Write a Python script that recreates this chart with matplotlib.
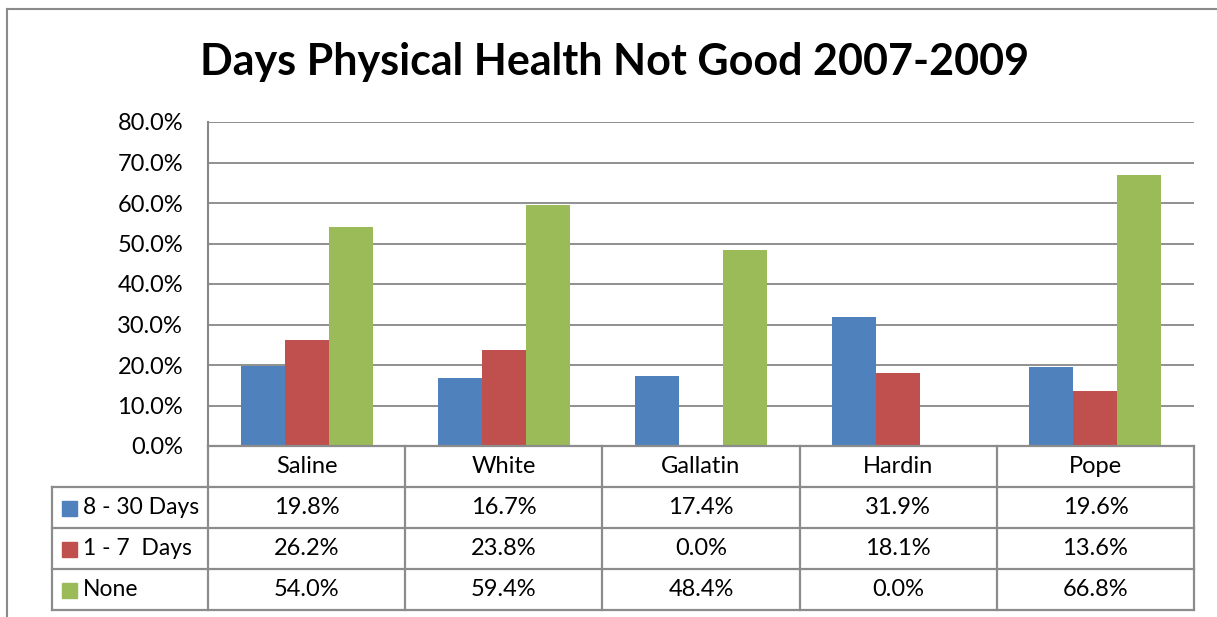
import matplotlib
matplotlib.use("Agg")
import matplotlib.pyplot as plt
import numpy as np

title = "Days Physical Health Not Good 2007-2009"
categories = ["Saline", "White", "Gallatin", "Hardin", "Pope"]
series_names = ["8 - 30 Days", "1 - 7  Days", "None"]
days_8_30 = [19.8, 16.7, 17.4, 31.9, 19.6]
days_1_7 = [26.2, 23.8, 0.0, 18.1, 13.6]
days_none = [54.0, 59.4, 48.4, 0.0, 66.8]
colors = ["#4F81BD", "#C0504D", "#9BBB59"]
yticks = [0, 10, 20, 30, 40, 50, 60, 70, 80]

series = [days_8_30, days_1_7, days_none]

W, H = 1217, 617
fig = plt.figure(figsize=(W / 100, H / 100), dpi=100)
FONT = "Lato"
grid_c = "#878787"

# plot area in pixel coordinates
px0, px1 = 208, 1194
py_top, py_bot = 122, 446
ax = fig.add_axes([px0 / W, 1 - py_bot / H, (px1 - px0) / W, (py_bot - py_top) / H])
n = len(categories)
x = np.arange(n)
bw = 44 / 197
for i, (vals, c) in enumerate(zip(series, colors)):
    ax.bar(x + (i - 1) * bw, vals, width=bw, color=c, zorder=3)
ax.set_xlim(-0.5, n - 0.5)
ax.set_ylim(0, 80)
ax.set_yticks(yticks)
ax.set_yticklabels([f"{v:.1f}%" for v in yticks], fontsize=17, family=FONT)
ax.tick_params(axis="y", length=0, pad=18)
ax.set_xticks([])
ax.grid(axis="y", color=grid_c, linewidth=1.3, zorder=0)
for s in ["top", "right", "bottom"]:
    ax.spines[s].set_visible(False)
ax.spines["left"].set_color(grid_c)
ax.spines["left"].set_linewidth(1.5)

# overlay for table and frame
ov = fig.add_axes([0, 0, 1, 1], zorder=5)
ov.set_xlim(0, W)
ov.set_ylim(H, 0)
ov.axis("off")
ov.patch.set_alpha(0)

# outer frame
ov.plot([7, 7], [9, H], color="#8a8a8a", lw=1.5)
ov.plot([7, W], [9, 9], color="#8a8a8a", lw=1.5)

ov.text(615, 62, title, fontsize=31, fontweight="bold", family=FONT,
        ha="center", va="center")

col_edges = np.linspace(px0, px1, n + 1)
row_edges = [446, 487, 528, 569, 610]
leg_x0 = 52
tlw = 1.6
tc = "#8c8c8c"
# horizontal lines
ov.plot([px0, px1], [row_edges[0]] * 2, color=tc, lw=tlw)
for yv in row_edges[1:]:
    ov.plot([leg_x0, px1], [yv] * 2, color=tc, lw=tlw)
# vertical lines
ov.plot([px0, px0], [row_edges[0], row_edges[-1]], color=tc, lw=tlw)
for xv in col_edges[1:]:
    ov.plot([xv, xv], [row_edges[0], row_edges[-1]], color=tc, lw=tlw)
ov.plot([leg_x0, leg_x0], [row_edges[1], row_edges[-1]], color=tc, lw=tlw)

for j, cat in enumerate(categories):
    cx = (col_edges[j] + col_edges[j + 1]) / 2
    ov.text(cx, (row_edges[0] + row_edges[1]) / 2, cat, fontsize=17,
            family=FONT, ha="center", va="center")
for i, (name, vals, c) in enumerate(zip(series_names, series, colors)):
    cy = (row_edges[i + 1] + row_edges[i + 2]) / 2
    ov.add_patch(plt.Rectangle((62, cy - 7), 15, 15, color=c))
    ov.text(83, cy, name, fontsize=16.5, family=FONT, ha="left", va="center")
    for j, v in enumerate(vals):
        cx = (col_edges[j] + col_edges[j + 1]) / 2
        ov.text(cx, cy, f"{v:.1f}%", fontsize=17, family=FONT,
                ha="center", va="center")

fig.savefig("out.png", dpi=100)
